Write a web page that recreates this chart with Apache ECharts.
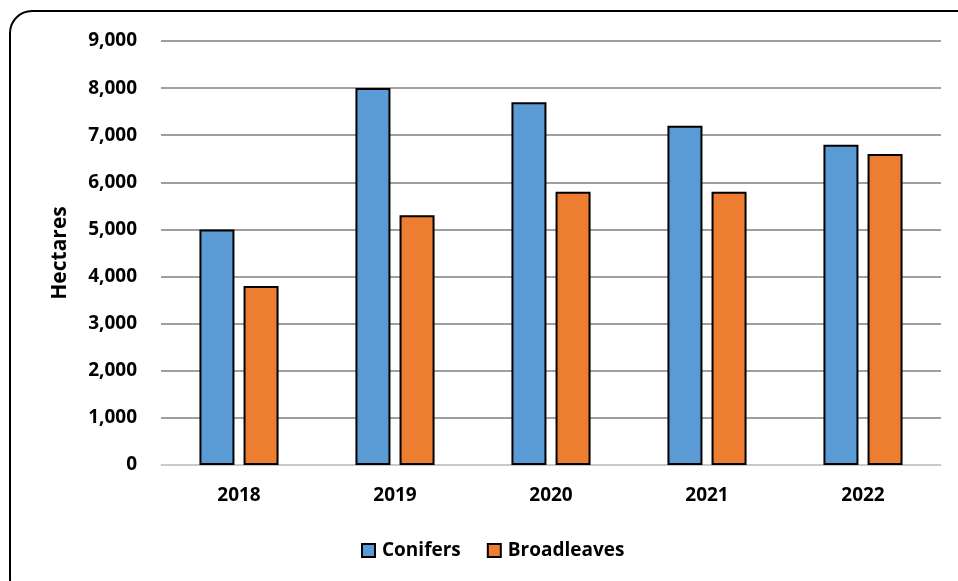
<!DOCTYPE html>
<html>
<head>
<meta charset="utf-8">
<script src="https://cdn.jsdelivr.net/npm/echarts@6/dist/echarts.min.js"></script>
<style>html,body{margin:0;padding:0;background:#fff;}#c{width:958px;height:581px;}</style>
</head>
<body>
<div id="c"></div>
<script>
const categories = ['2018', '2019', '2020', '2021', '2022'];
const conifers = [5000, 8000, 7700, 7200, 6800];
const broadleaves = [3800, 5300, 5800, 5800, 6600];
const seriesNames = ['Conifers', 'Broadleaves'];

const font = '"Open Sans", "Noto Sans", sans-serif';
const chart = echarts.init(document.getElementById('c'));
chart.setOption({
  animation: false,
  backgroundColor: '#fff',
  graphic: [{
    type: 'rect',
    shape: { x: 10, y: 11, width: 975, height: 590, r: 22 },
    style: { fill: 'none', stroke: '#000', lineWidth: 2 },
    z: 100
  }],
  grid: { left: 161, right: 17, top: 41, bottom: 116, containLabel: false },
  legend: {
    top: 536,
    left: 356,
    itemWidth: 13,
    itemHeight: 13,
    itemGap: 26,
    icon: 'rect',
    textStyle: { fontFamily: font, fontWeight: 'bold', fontSize: 19, color: '#000', padding: [0, 0, 0, 2] },
    data: seriesNames
  },
  xAxis: {
    type: 'category',
    data: categories,
    axisLine: { lineStyle: { color: '#d9d9d9', width: 1.5 } },
    axisTick: { show: false },
    axisLabel: { fontFamily: font, fontWeight: 'bold', fontSize: 19, color: '#000', margin: 21 }
  },
  yAxis: {
    type: 'value',
    min: 0, max: 9000, interval: 1000,
    name: 'Hectares',
    nameLocation: 'middle',
    nameGap: 90,
    nameRotate: 90,
    nameTextStyle: { fontFamily: font, fontWeight: 'bold', fontSize: 21, color: '#000' },
    axisLine: { show: false },
    axisTick: { show: false },
    splitLine: { lineStyle: { color: '#7f7f7f', width: 1.5 } },
    axisLabel: {
      fontFamily: font, fontWeight: 'bold', fontSize: 19, color: '#000', margin: 24,
      formatter: v => v.toLocaleString('en-US')
    }
  },
  series: [
    {
      name: seriesNames[0], type: 'bar', data: conifers,
      barWidth: 35, barGap: '26%',
      itemStyle: { color: '#5b9bd5', borderColor: '#000', borderWidth: 2 }
    },
    {
      name: seriesNames[1], type: 'bar', data: broadleaves,
      barWidth: 35,
      itemStyle: { color: '#ed7d31', borderColor: '#000', borderWidth: 2 }
    }
  ]
});
</script>
</body>
</html>
